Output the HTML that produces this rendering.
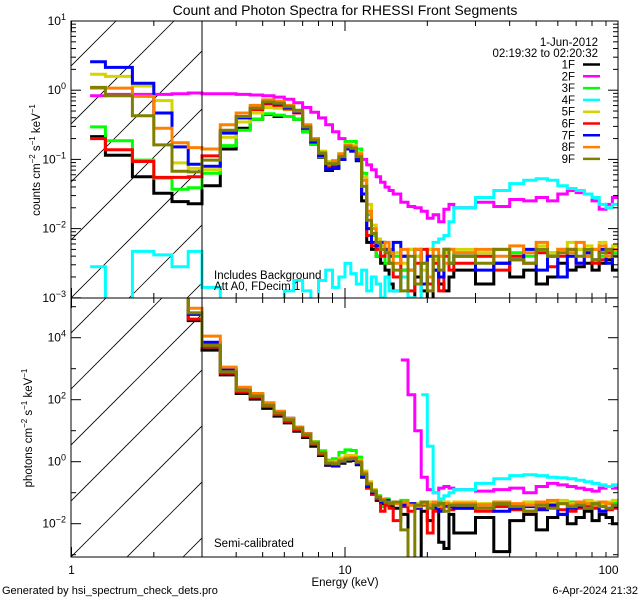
<!DOCTYPE html>
<html><head><meta charset="utf-8"><style>
body{margin:0;background:#fff;}
svg{display:block;font-family:"Liberation Sans",sans-serif;}
</style></head><body>
<svg id="chart" width="640" height="600" viewBox="0 0 640 600" xmlns="http://www.w3.org/2000/svg">
<rect width="640" height="600" fill="#fff"/>
<defs>
<clipPath id="ct"><rect x="71" y="21" width="547" height="277"/></clipPath>
<clipPath id="cb"><rect x="71" y="298" width="547" height="259"/></clipPath>
<clipPath id="ht"><rect x="71" y="21" width="131" height="277"/></clipPath>
<clipPath id="hb"><rect x="71" y="298" width="131" height="259"/></clipPath>
</defs>
<text x="345" y="15" font-size="14" text-anchor="middle">Count and Photon Spectra for RHESSI Front Segments</text>
<g id="hatch"></g>
<g id="series"></g>
<g id="axes"></g>
<text x="598" y="46" font-size="11.5" text-anchor="end">1-Jun-2012</text>
<text x="598" y="57" font-size="11.5" text-anchor="end">02:19:32 to 02:20:32</text>
<g id="legend"></g>
<text x="214" y="279" font-size="11.5">Includes Background</text>
<text x="214" y="290" font-size="11.5">Att A0, FDecim 1</text>
<text x="214" y="547" font-size="11.5">Semi-calibrated</text>
<text x="345" y="586" font-size="11.5" text-anchor="middle">Energy (keV)</text>
<text x="2" y="594" font-size="11">Generated by hsi_spectrum_check_dets.pro</text>
<text x="638" y="594" font-size="11" text-anchor="end">6-Apr-2024 21:32</text>
<text transform="translate(40,160) rotate(-90)" font-size="11.5" text-anchor="middle">counts cm<tspan dy="-5" font-size="8">−2</tspan><tspan dy="5"> s</tspan><tspan dy="-5" font-size="8">−1</tspan><tspan dy="5"> keV</tspan><tspan dy="-5" font-size="8">−1</tspan></text>
<text transform="translate(32,428) rotate(-90)" font-size="11.5" text-anchor="middle">photons cm<tspan dy="-5" font-size="8">−2</tspan><tspan dy="5"> s</tspan><tspan dy="-5" font-size="8">−1</tspan><tspan dy="5"> keV</tspan><tspan dy="-5" font-size="8">−1</tspan></text>
</svg>
<script>
const edges=[1.17,1.33,1.67,2,2.33,2.67,3,3.5,4,4.5,5,5.5,6,6.5,7,7.5,8,8.5,9,9.5,10,10.5,11,11.5,12,12.5,13,13.5,14,14.5,15,16,17,18,19,20,21,22,23,24,25,30,35,40,45,50,55,60,65,70,75,80,85,90,95,100];
const seriesNames=["1F","2F","3F","4F","5F","6F","7F","8F","9F"];
const seriesColors=["#000000","#ff00ff","#00ff00","#00ffff","#d4d400","#ff0000","#0000ff","#ff8000","#808000"];
// log10 counts (top panel)
const c1F=[-0.67,-0.94,-1.25,-1.49,-1.61,-1.64,-1.38,-0.85,-0.55,-0.42,-0.35,-0.38,-0.38,-0.42,-0.60,-0.78,-0.97,-1.16,-1.13,-1.0,-0.84,-0.88,-1.02,-1.6,-2.2,-2.3,-2.4,-2.5,-2.6,-2.8,-2.9,-2.6,-3.1,-2.7,-2.9,-3.1,-2.6,-2.8,-2.9,-2.7,-2.6,-2.8,-2.5,-2.7,-2.6,-2.8,-2.7,-2.5,-2.6,-2.55,-2.5,-2.6,-2.5,-2.45,-2.6];
const c2F=[-0.08,-0.06,-0.06,-0.06,-0.05,-0.04,-0.05,-0.05,-0.06,-0.07,-0.08,-0.10,-0.13,-0.18,-0.25,-0.32,-0.40,-0.50,-0.60,-0.70,-0.78,-0.85,-0.93,-1.0,-1.08,-1.15,-1.25,-1.33,-1.40,-1.45,-1.5,-1.62,-1.68,-1.7,-1.75,-1.85,-1.8,-1.9,-1.72,-1.65,-1.7,-1.62,-1.68,-1.58,-1.6,-1.55,-1.6,-1.5,-1.45,-1.48,-1.5,-1.6,-1.72,-1.65,-1.55];
const c3F=[-0.53,-0.73,-1.01,-1.27,-1.43,-1.41,-1.2,-0.80,-0.58,-0.42,-0.34,-0.36,-0.38,-0.42,-0.60,-0.78,-0.96,-1.08,-1.04,-0.92,-0.74,-0.74,-0.85,-1.2,-1.8,-2.1,-2.4,-2.2,-2.5,-2.3,-2.4,-2.6,-2.3,-2.4,-2.5,-2.3,-2.6,-2.4,-2.3,-2.5,-2.35,-2.4,-2.3,-2.35,-2.4,-2.3,-2.35,-2.3,-2.4,-2.3,-2.35,-2.3,-2.4,-2.3,-2.35];
const c4F=[-2.55,-3.2,-2.33,-2.38,-2.55,-2.33,-2.85,-3.1,-3.2,-3.2,-3.2,-3.2,-2.9,-2.75,-2.9,-3.1,-2.75,-2.6,-2.85,-2.7,-2.5,-2.65,-2.8,-2.6,-2.9,-2.7,-2.8,-3.0,-2.7,-2.9,-2.9,-2.7,-3.0,-3.1,-2.5,-2.3,-2.2,-2.15,-2.1,-1.9,-1.7,-1.55,-1.45,-1.35,-1.3,-1.28,-1.3,-1.38,-1.42,-1.45,-1.5,-1.55,-1.65,-1.7,-1.65];
const c5F=[0.23,0.20,0.06,-0.15,-1.05,-1.13,-1.15,-0.68,-0.46,-0.33,-0.25,-0.26,-0.28,-0.30,-0.52,-0.70,-0.88,-1.03,-1.02,-0.92,-0.78,-0.80,-0.90,-1.25,-1.65,-1.95,-2.15,-2.25,-2.3,-2.35,-2.35,-2.5,-2.3,-2.4,-2.6,-2.3,-2.45,-2.4,-2.35,-2.3,-2.3,-2.35,-2.3,-2.4,-2.3,-2.25,-2.35,-2.3,-2.2,-2.3,-2.25,-2.3,-2.2,-2.3,-2.25];
const c6F=[-0.70,-0.86,-1.03,-1.26,-1.26,-1.25,-0.95,-0.60,-0.40,-0.28,-0.20,-0.22,-0.27,-0.33,-0.55,-0.74,-0.93,-1.12,-1.10,-0.98,-0.80,-0.84,-0.98,-1.5,-2.1,-2.25,-2.3,-2.4,-2.3,-2.5,-2.7,-2.4,-2.9,-2.5,-2.3,-2.8,-2.5,-2.9,-2.4,-2.6,-2.5,-2.4,-2.6,-2.4,-2.5,-2.35,-2.55,-2.4,-2.3,-2.5,-2.4,-2.5,-2.45,-2.35,-2.4];
const c7F=[0.41,0.33,0.10,-0.33,-0.82,-1.07,-1.1,-0.62,-0.40,-0.26,-0.18,-0.20,-0.25,-0.32,-0.55,-0.75,-0.95,-1.14,-1.12,-1.0,-0.85,-0.88,-1.0,-1.5,-2.0,-2.2,-2.25,-2.2,-2.3,-2.4,-2.2,-2.4,-2.6,-2.3,-2.8,-2.4,-2.6,-2.7,-2.3,-2.5,-2.4,-2.6,-2.5,-2.45,-2.3,-2.6,-2.4,-2.7,-2.4,-2.5,-2.35,-2.45,-2.3,-2.5,-2.4];
const c8F=[0.03,0.03,-0.09,-0.55,-0.76,-0.83,-0.85,-0.50,-0.33,-0.22,-0.14,-0.16,-0.22,-0.30,-0.50,-0.70,-0.90,-1.05,-1.02,-0.92,-0.80,-0.82,-0.92,-1.30,-1.75,-2.0,-2.2,-2.3,-2.2,-2.35,-2.5,-2.3,-2.6,-2.3,-2.5,-2.7,-2.3,-2.4,-2.5,-2.3,-2.35,-2.3,-2.4,-2.25,-2.35,-2.2,-2.4,-2.3,-2.35,-2.2,-2.4,-2.3,-2.25,-2.4,-2.3];
const c9F=[0.04,-0.08,-0.37,-0.79,-1.17,-1.18,-1.01,-0.58,-0.38,-0.26,-0.17,-0.19,-0.24,-0.29,-0.53,-0.72,-0.91,-1.06,-1.06,-0.96,-0.82,-0.84,-0.96,-1.39,-1.88,-2.07,-2.2,-2.3,-2.35,-2.5,-2.6,-2.9,-2.4,-2.8,-2.5,-2.9,-2.4,-2.6,-2.3,-2.5,-2.4,-2.5,-2.3,-2.45,-2.5,-2.3,-2.4,-2.35,-2.3,-2.4,-2.3,-2.45,-2.35,-2.3,-2.4];
// log10 photons (bottom panel), null = no data
const p1F=[null,null,null,null,6,4.55,3.6,2.8,2.2,2.02,1.72,1.47,1.25,0.98,0.78,0.5,0.2,-0.12,-0.14,-0.05,0.02,0.04,-0.1,-0.5,-0.85,-1.05,-1.25,-1.35,-1.4,-1.45,-1.5,-1.7,-3.5,-3.5,-1.6,-1.9,-1.5,-2.6,-2.8,-1.7,-2.3,-1.8,-2.9,-1.9,-1.7,-2.2,-1.8,-1.7,-2.0,-1.8,-1.6,-1.9,-1.7,-1.8,-2.0];
const p2F=[null,null,null,null,null,null,null,null,null,null,null,null,null,null,null,null,null,null,null,null,null,null,null,null,null,null,null,null,null,null,null,3.28,2.16,1.0,-0.5,-0.9,-1.0,-0.85,-0.8,-0.85,-0.9,-0.95,-0.9,-0.85,-1.0,-0.8,-0.7,-0.75,-0.8,-0.85,-0.9,-0.95,-0.85,-0.8,-0.85];
const p3F=[null,null,null,null,6,4.8,3.8,2.95,2.32,2.14,1.84,1.59,1.37,1.1,0.9,0.65,0.35,0.05,0.1,0.3,0.38,0.36,0.15,-0.3,-0.7,-0.95,-1.1,-1.45,-1.2,-1.3,-1.35,-1.25,-1.4,-1.45,-1.3,-1.35,-1.4,-1.3,-1.35,-1.45,-1.35,-1.4,-1.3,-1.4,-1.35,-1.3,-1.4,-1.35,-1.3,-1.4,-1.35,-1.3,-1.4,-1.35,-1.3];
const p4F=[null,null,null,null,null,null,null,null,null,null,null,null,null,null,null,null,null,null,null,null,null,null,null,null,null,null,null,null,null,null,null,null,null,null,2.16,0.5,-1.0,-1.2,-1.1,-1.0,-0.9,-0.7,-0.55,-0.45,-0.42,-0.45,-0.5,-0.52,-0.55,-0.6,-0.65,-0.7,-0.75,-0.8,-0.75];
const p5F=[null,null,null,null,6,4.75,3.75,2.92,2.3,2.12,1.82,1.57,1.35,1.1,0.9,0.63,0.3,0.0,0.0,0.12,0.2,0.2,0.05,-0.3,-0.65,-0.9,-1.15,-1.25,-1.3,-1.3,-1.35,-1.3,-1.4,-1.35,-1.4,-1.3,-1.35,-1.4,-1.3,-1.35,-1.3,-1.35,-1.3,-1.4,-1.3,-1.35,-1.3,-1.25,-1.35,-1.3,-1.25,-1.3,-1.35,-1.3,-1.25];
const p6F=[null,null,null,null,6,4.6,3.7,2.85,2.25,2.08,1.78,1.52,1.3,1.03,0.83,0.56,0.24,-0.1,-0.1,0.0,0.06,0.08,-0.05,-0.45,-0.85,-1.05,-1.2,-1.6,-1.4,-1.5,-1.9,-1.45,-1.6,-1.5,-1.4,-2.3,-1.6,-1.5,-1.45,-1.55,-1.5,-1.6,-1.45,-1.55,-1.6,-1.5,-1.45,-1.55,-1.6,-1.5,-1.45,-1.5,-1.6,-1.55,-1.5];
const p7F=[null,null,null,null,6,4.75,3.85,2.98,2.38,2.18,1.88,1.62,1.4,1.12,0.9,0.62,0.28,-0.1,-0.12,-0.02,0.05,0.08,-0.05,-0.45,-0.8,-1.0,-1.15,-1.3,-1.25,-1.35,-1.3,-1.4,-1.35,-1.5,-1.3,-1.4,-1.5,-1.6,-1.4,-1.45,-1.5,-1.4,-1.6,-1.5,-1.45,-1.55,-1.4,-1.7,-1.5,-1.45,-1.5,-1.4,-1.6,-1.5,-1.45];
const p8F=[null,null,null,null,6,4.95,4.05,3.05,2.4,2.2,1.9,1.63,1.4,1.12,0.9,0.63,0.3,-0.02,-0.02,0.06,0.12,0.14,0.02,-0.35,-0.7,-0.92,-1.12,-1.22,-1.3,-1.32,-1.35,-1.3,-1.4,-1.45,-1.35,-1.4,-1.3,-1.45,-1.35,-1.4,-1.35,-1.4,-1.3,-1.35,-1.4,-1.3,-1.25,-1.35,-1.4,-1.3,-1.35,-1.4,-1.3,-1.35,-1.4];
const p9F=[null,null,null,null,6,4.8,3.75,2.9,2.3,2.12,1.82,1.57,1.35,1.08,0.87,0.6,0.28,-0.05,-0.07,0.02,0.08,0.1,-0.02,-0.4,-0.72,-0.95,-1.15,-1.25,-1.3,-1.35,-1.3,-2.2,-3.5,-1.4,-1.3,-1.5,-1.4,-1.35,-1.6,-1.4,-1.4,-1.5,-1.35,-1.45,-1.6,-1.4,-1.5,-1.35,-1.45,-1.4,-1.5,-1.35,-1.45,-1.5,-1.4];
const countSeries=[c1F,c2F,c3F,c4F,c5F,c6F,c7F,c8F,c9F];
const photonSeries=[p1F,p2F,p3F,p4F,p5F,p6F,p7F,p8F,p9F];
const xTickLabels=["1","10","100"];
const topYTickExps=[1,0,-1,-2,-3];
const botYTickExps=[4,2,0,-2];

const NS="http://www.w3.org/2000/svg";
const X0=71.5, XD=273.5;
function xs(e){return X0+XD*Math.log10(e);}
function yTop(l){return 21+(1-l)*69.2;}
function yBot(l){return 461.7-31*l;}
function mk(tag,attrs,parent){const el=document.createElementNS(NS,tag);for(const k in attrs)el.setAttribute(k,attrs[k]);parent.appendChild(el);return el;}
const gH=document.getElementById('hatch'),gS=document.getElementById('series'),gA=document.getElementById('axes'),gL=document.getElementById('legend');

// hatch
[["ht",21,298,58],["hb",298,557,56]].forEach(([cp,t,b,sp])=>{
  const g=mk('g',{'clip-path':'url(#'+cp+')'},gH);
  
  
  for(let k=-6;k<8;k++){const x=71+k*sp;mk('line',{x1:x,y1:b,x2:x+(b-t),y2:t,stroke:'#000','stroke-width':0.8},g);}
});

function stepPath(vals,yf,lo,hi){
  let d='',open=false;
  for(let i=0;i<vals.length;i++){
    const v=vals[i];
    if(v===null){open=false;continue;}
    const cv=Math.max(lo,Math.min(hi,v));
    const x1=xs(edges[i]),x2=xs(edges[i+1]),y=yf(cv);
    if(!open){d+='M'+x1.toFixed(1)+' '+y.toFixed(1);open=true;}
    else d+='V'+y.toFixed(1);
    d+='H'+x2.toFixed(1);
  }
  return d;
}
const gT=mk('g',{'clip-path':'url(#ct)'},gS);
const gB=mk('g',{'clip-path':'url(#cb)'},gS);
countSeries.forEach((vals,i)=>{
  const p=mk('path',{d:stepPath(vals,yTop,-3.3,1.2),fill:'none',stroke:seriesColors[i],'stroke-width':3,'stroke-linejoin':'miter'},gT);
  
  
});
photonSeries.forEach((vals,i)=>{
  const p=mk('path',{d:stepPath(vals,yBot,-3.3,5.6),fill:'none',stroke:seriesColors[i],'stroke-width':3},gB);
  
  
});

// axes frames
[[21,298],[298,557]].forEach(([t,b])=>{
  const r=mk('rect',{x:71,y:t,width:547,height:b-t,fill:'none',stroke:'#000','stroke-width':1},gA);
  
  
  const v=mk('line',{x1:202,y1:t,x2:202,y2:b,stroke:'#000','stroke-width':1},gA);
  
  
  for(let dec=0;dec<2;dec++)for(let m=1;m<=10;m++){
    if(dec===1&&m===10)continue;
    const e=m*Math.pow(10,dec);const x=xs(e);const L=(m===1||m===10)?10:5;
    mk('line',{x1:x,y1:b,x2:x,y2:b-L,stroke:'#000'},gA);
    mk('line',{x1:x,y1:t,x2:x,y2:t+L,stroke:'#000'},gA);
  }
  mk('line',{x1:618,y1:b,x2:618,y2:b-10,stroke:'#000'},gA);
});
// x tick labels
xTickLabels.forEach((s,i)=>{
  const t=mk('text',{x:xs(Math.pow(10,i))+(i===2?-10:0),y:574,'font-size':12,'text-anchor':'middle'},gA);
  t.textContent=s;
  
  
});
// top y ticks
for(let d=-3;d<=1;d++)for(let m=1;m<10;m++){
  const l=d+Math.log10(m);if(l>1)continue;const y=yTop(l);const L=m===1?10:5;
  mk('line',{x1:71,y1:y,x2:71+L,y2:y,stroke:'#000'},gA);
  mk('line',{x1:618,y1:y,x2:618-L,y2:y,stroke:'#000'},gA);
}
function expLabel(x,y,exp,name){
  const t=mk('text',{x:x,y:y,'font-size':12,'text-anchor':'end'},gA);
  
  
  const a=mk('tspan',{},t);a.textContent='10';
  const b=mk('tspan',{dy:-5,'font-size':9},t);b.textContent=(exp<0?'−':'')+Math.abs(exp);
}
topYTickExps.forEach(e=>expLabel(66,yTop(e)+4,e,'top-y-tick-label'));
// bottom y ticks
for(let d=-3;d<=5;d++){
  const y=yBot(d);if(y<298||y>557)continue;const L=(d%2===0)?10:5;
  mk('line',{x1:71,y1:y,x2:71+L,y2:y,stroke:'#000'},gA);
  mk('line',{x1:618,y1:y,x2:618-L,y2:y,stroke:'#000'},gA);
}
botYTickExps.forEach(e=>expLabel(66,yBot(e)+4,e,'bottom-y-tick-label'));
// legend
seriesNames.forEach((n,i)=>{
  const y=64.5+i*11.8;
  const g=mk('g',{},gL);
  
  
  const t=mk('text',{x:575,y:y+4,'font-size':11.5,'text-anchor':'end'},g);t.textContent=n;
  mk('line',{x1:583,y1:y,x2:600,y2:y,stroke:seriesColors[i],'stroke-width':2.5},g);
});
</script>
</body></html>
